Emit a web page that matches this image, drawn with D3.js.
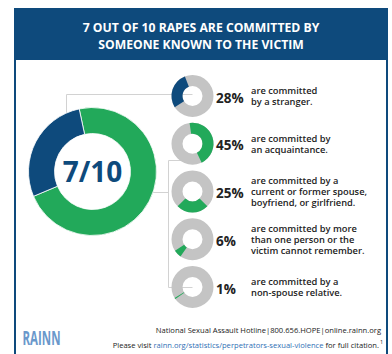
<!DOCTYPE html>
<html><head><meta charset="utf-8">
<script src="https://cdn.jsdelivr.net/npm/d3@7"></script>
<style>
html,body{margin:0;padding:0;background:#fff;}
svg{display:block;}
text{font-family:"Open Sans","Noto Sans",sans-serif;}
</style></head>
<body>
<svg id="c" width="392" height="354"></svg>
<script>
// ---- data ----
const titleLines = ["7 OUT OF 10 RAPES ARE COMMITTED BY", "SOMEONE KNOWN TO THE VICTIM"];
const bigLabel = "7/10";
const bigCategories = ["known", "stranger"];
const bigValues = [72, 28];
const categories = ["stranger", "acquaintance", "partner", "multiple", "relative"];
const values = [28, 45, 25, 6, 1];
const percentLabels = ["28%", "45%", "25%", "6%", "1%"];
const descriptions = [
  ["are committed", "by a stranger."],
  ["are committed by", "an acquaintance."],
  ["are committed by a", "current or former spouse,", "boyfriend, or girlfriend."],
  ["are committed by more", "than one person or the", "victim cannot remember."],
  ["are committed by a", "non-spouse relative."]
];
const segmentStartDeg = [-122, -8, 135, 215, 235];
const footerLine1 = "National Sexual Assault Hotline|800.656.HOPE|online.rainn.org";
const footerLine2 = ["Please visit ", "rainn.org/statistics/perpetrators-sexual-violence", " for full citation."];
const logoText = "RAINN";

// ---- style ----
const NAVY = "#0e4a7c", GREEN = "#22a95a", GRAY = "#c4c4c4", LINE = "#d2d2d2";
const svg = d3.select("#c");

// frame
svg.append("rect").attr("x",14).attr("y",8).attr("width",374).attr("height",52).attr("fill",NAVY);
svg.append("rect").attr("x",14).attr("y",8).attr("width",2).attr("height",346).attr("fill",NAVY);
svg.append("rect").attr("x",386).attr("y",8).attr("width",2).attr("height",346).attr("fill",NAVY);
svg.append("text").attr("x",201).attr("text-anchor","middle").attr("fill","#fff")
  .attr("font-weight",700).attr("font-size",12.2)
  .selectAll("tspan").data(titleLines).join("tspan")
  .attr("x",201).attr("y",(d,i)=>32+i*16.5).text(d=>d);

// scales
const y = d3.scalePoint().domain(categories).range([96, 287]);
const cx = 192.5;

// connector lines
const lines = svg.append("g").attr("stroke",LINE).attr("fill","none").attr("stroke-width",1);
lines.append("path").attr("d",`M66.5,120 V94.5 H${cx}`);
lines.append("path").attr("d",`M140,192.5 H168.5`);
lines.append("path").attr("d",`M${cx},160.5 H168.5 V287.5 H${cx}`);

// big donut
const bigArc = d3.arc().innerRadius(38).outerRadius(64);
const bigPie = d3.pie().sort(null).startAngle(-12*Math.PI/180).endAngle(348*Math.PI/180);
const bg = svg.append("g").attr("transform","translate(92.5,171.5)");
bg.selectAll("path").data(bigPie(bigValues)).join("path")
  .attr("d",bigArc).attr("fill",(d,i)=>i===0?GREEN:NAVY)
  .attr("stroke","#fff").attr("stroke-width",0.8);
bg.append("text").attr("text-anchor","middle").attr("y",10.5)
  .attr("font-size",28).attr("font-weight",700).attr("fill",NAVY).text(bigLabel);

// small donuts
const smallArc = d3.arc().innerRadius(10).outerRadius(21);
const g = svg.selectAll("g.item").data(categories).join("g").attr("class","item")
  .attr("transform",d=>`translate(${cx},${y(d)})`);
g.append("circle").attr("r",15.5).attr("fill","none").attr("stroke",GRAY).attr("stroke-width",11);
g.append("path").attr("d",(d,i)=>{
  const s = segmentStartDeg[i]*Math.PI/180;
  return smallArc({startAngle:s, endAngle:s+values[i]/100*2*Math.PI});
}).attr("fill",(d,i)=>i===0?NAVY:GREEN);
g.append("text").attr("x",23.5).attr("y",6.5).attr("font-size",13.5).attr("font-weight",700)
  .attr("fill","#222").text((d,i)=>percentLabels[i]);
g.each(function(d,i){
  const lns = descriptions[i];
  const t = d3.select(this).append("text").attr("font-size",9.3).attr("font-weight",600).attr("fill","#222");
  const y0 = -((lns.length-1)*11)/2 + 3.5;
  t.selectAll("tspan").data(lns).join("tspan").attr("x",58.5).attr("y",(l,j)=>y0+j*11).text(l=>l);
});

// footer
svg.append("text").attr("x",381).attr("y",333).attr("text-anchor","end").attr("font-size",7.6)
  .attr("fill","#222").text(footerLine1);
const f2 = svg.append("text").attr("x",379).attr("y",348).attr("text-anchor","end").attr("font-size",7.6).attr("fill","#222");
f2.selectAll("tspan").data(footerLine2).join("tspan").attr("fill",(d,i)=>i===1?"#2f6fb5":"#222").text(d=>d);
svg.append("text").attr("x",380).attr("y",344).attr("font-size",5.5).attr("fill","#222").text("1");
svg.append("text").attr("x",22.5).attr("y",345).attr("font-family","'Liberation Sans Narrow','DejaVu Sans Condensed',sans-serif")
  .attr("font-weight",700).attr("font-size",20).attr("fill","#6a98cb").attr("textLength",38).attr("lengthAdjust","spacingAndGlyphs").text(logoText);
</script>
</body></html>
